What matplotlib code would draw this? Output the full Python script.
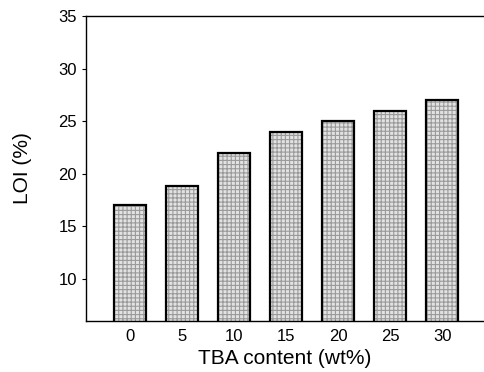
import matplotlib.pyplot as plt

# --- Data ---
tba_content = [0, 5, 10, 15, 20, 25, 30]
loi = [17.0, 18.8, 22.0, 24.0, 25.0, 26.0, 27.0]
y_ticks = [10, 15, 20, 25, 30, 35]

plt.rcParams['font.family'] = ['Liberation Sans', 'DejaVu Sans']
plt.rcParams['hatch.linewidth'] = 0.8

fig = plt.figure(figsize=(4.84, 3.72), dpi=100)
ax = fig.add_axes([0.178, 0.137, 0.822, 0.820])

# stippled gray fill, then black outline on top
ax.bar(tba_content, loi, width=3.1, bottom=0, color='#e2e2e2',
       edgecolor='#9a9a9a', hatch='++++', linewidth=0)
ax.bar(tba_content, loi, width=3.1, bottom=0, fill=False,
       edgecolor='black', linewidth=1.6)

ax.set_xlim(-4.2, 34)
ax.set_ylim(6, 35)
ax.set_yticks(y_ticks)
ax.set_xticks(tba_content)

ax.spines['right'].set_visible(False)
for s in ['left', 'top', 'bottom']:
    ax.spines[s].set_linewidth(1.0)

ax.tick_params(axis='x', length=0, pad=6, labelsize=12)
ax.tick_params(axis='y', length=3, direction='out', labelsize=12)

ax.set_xlabel('TBA content (wt%)', fontsize=15, labelpad=3)
ax.set_ylabel('LOI (%)', fontsize=15, labelpad=19)

plt.savefig('out.png', dpi=100)
